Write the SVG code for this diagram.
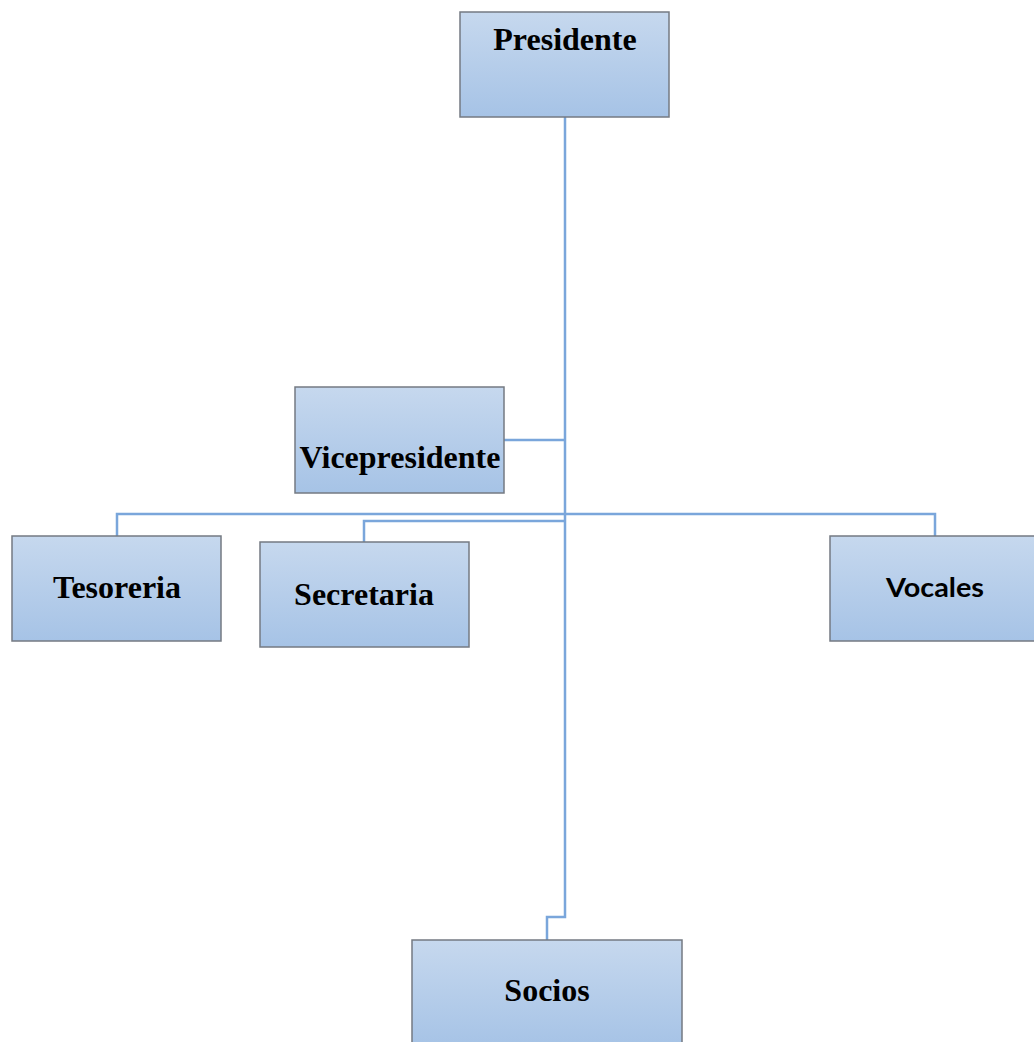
<svg xmlns="http://www.w3.org/2000/svg" width="1034" height="1042" viewBox="0 0 1034 1042">
  <defs>
    <linearGradient id="boxFill" x1="0" y1="0" x2="0" y2="1">
      <stop offset="0" stop-color="#c6d8ee"/>
      <stop offset="1" stop-color="#a6c3e6"/>
    </linearGradient>
  </defs>
  <style>
    .box { fill: url(#boxFill); stroke: #747a82; stroke-width: 1.5; }
    .label { font-family: "Liberation Serif", "Times New Roman", serif; font-weight: bold; font-size: 32px; fill: #000; text-anchor: middle; }
    .label-sans { font-family: Lato, "Liberation Sans", sans-serif; font-weight: bold; font-size: 27px; fill: #000; text-anchor: middle; }
    .wire { fill: none; stroke: #7aa6db; stroke-width: 2.5; }
  </style>
  <rect width="1034" height="1042" fill="#ffffff"/>

  <g id="connectors">
    <path class="wire" d="M565,117 V917 H547 V940"/>
    <path class="wire" d="M504,440 H565"/>
    <path class="wire" d="M117,536 V514 H935 V536"/>
    <path class="wire" d="M364,542 V521 H565"/>
  </g>

  <g id="presidente">
    <rect class="box" x="460" y="12" width="209" height="105"/>
    <text class="label" x="565" y="50">Presidente</text>
  </g>

  <g id="vicepresidente">
    <rect class="box" x="295" y="387" width="209" height="106"/>
    <text class="label" x="400" y="468">Vicepresidente</text>
  </g>

  <g id="tesoreria">
    <rect class="box" x="12" y="536" width="209" height="105"/>
    <text class="label" x="117" y="598">Tesoreria</text>
  </g>

  <g id="secretaria">
    <rect class="box" x="260" y="542" width="209" height="105"/>
    <text class="label" x="364" y="605">Secretaria</text>
  </g>

  <g id="vocales">
    <rect class="box" x="830" y="536" width="209" height="105"/>
    <text class="label-sans" x="935" y="597" textLength="98" lengthAdjust="spacingAndGlyphs">Vocales</text>
  </g>

  <g id="socios">
    <rect class="box" x="412" y="940" width="270" height="106"/>
    <text class="label" x="547" y="1001">Socios</text>
  </g>
</svg>
